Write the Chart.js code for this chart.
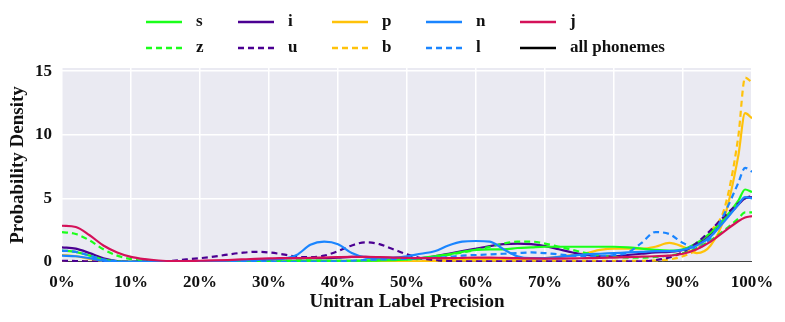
<!DOCTYPE html>
<html><head><meta charset="utf-8">
<script src="https://cdn.jsdelivr.net/npm/chart.js@4.4.1/dist/chart.umd.min.js"></script>
<style>html,body{margin:0;padding:0;background:#fff}#wrap{width:785px;height:322px}</style>
</head><body><div id="wrap"><canvas id="c" width="785" height="322"></canvas></div>
<script>
// x positions (Unitran label precision, %)
const xs = [0,2,4,6,8,10,12,14,16,18,20,22,24,26,28,30,32,34,36,38,40,42,44,46,48,50,52,54,56,58,60,62,64,66,68,70,72,74,76,78,80,82,84,86,88,90,92,94,96,98,99,100];
const seriesLabels = ["s","z","i","u","p","b","n","l","j","all phonemes"];
const s_vals = [0.9,0.8,0.5,0.2,0.05,0.01,0.01,0.01,0.01,0.01,0.01,0.01,0.01,0.01,0.01,0.01,0.05,0.08,0.1,0.1,0.1,0.1,0.1,0.12,0.15,0.2,0.3,0.45,0.6,0.8,0.95,1.0,1.0,1.1,1.15,1.2,1.2,1.2,1.2,1.2,1.2,1.15,1.05,0.95,0.9,1.0,1.5,2.3,3.4,4.8,5.7,5.5];
const z_vals = [2.35,2.2,1.7,1.0,0.5,0.22,0.08,0.03,0.02,0.02,0.02,0.02,0.02,0.02,0.03,0.05,0.1,0.12,0.12,0.1,0.1,0.1,0.12,0.15,0.2,0.2,0.25,0.35,0.55,0.75,0.95,1.2,1.45,1.6,1.6,1.45,1.2,0.95,0.7,0.5,0.4,0.35,0.35,0.4,0.5,0.7,1.1,1.7,2.5,3.4,3.9,3.9];
const i_vals = [1.15,1.05,0.7,0.3,0.08,0.02,0.02,0.02,0.02,0.02,0.02,0.02,0.02,0.02,0.05,0.15,0.3,0.3,0.3,0.3,0.35,0.4,0.4,0.35,0.3,0.25,0.3,0.45,0.65,0.85,1.05,1.25,1.4,1.45,1.4,1.25,1.0,0.75,0.55,0.45,0.45,0.55,0.65,0.75,0.8,0.95,1.4,2.2,3.3,4.5,5.0,5.1];
const u_vals = [0.1,0.08,0.05,0.02,0.02,0.02,0.03,0.05,0.1,0.2,0.3,0.42,0.58,0.72,0.8,0.75,0.6,0.42,0.38,0.5,0.85,1.3,1.55,1.4,1.0,0.6,0.3,0.15,0.08,0.05,0.05,0.05,0.05,0.05,0.05,0.05,0.05,0.05,0.05,0.05,0.05,0.05,0.05,0.15,0.35,0.8,1.5,2.5,3.6,4.6,5.0,5.2];
const p_vals = [0.55,0.45,0.25,0.08,0.02,0.02,0.02,0.02,0.02,0.02,0.02,0.02,0.02,0.02,0.02,0.02,0.02,0.02,0.02,0.02,0.02,0.02,0.02,0.02,0.02,0.02,0.05,0.1,0.15,0.2,0.25,0.25,0.25,0.25,0.25,0.3,0.4,0.55,0.7,0.95,1.05,1.05,1.05,1.2,1.5,1.2,0.7,1.3,3.5,8.3,11.7,11.3];
const b_vals = [0.05,0.05,0.04,0.03,0.03,0.03,0.03,0.03,0.03,0.03,0.03,0.03,0.03,0.03,0.03,0.03,0.04,0.05,0.05,0.05,0.05,0.05,0.05,0.05,0.05,0.05,0.06,0.08,0.1,0.1,0.1,0.1,0.1,0.1,0.1,0.1,0.1,0.1,0.1,0.1,0.1,0.1,0.1,0.12,0.2,0.45,1.0,2.4,4.2,9.8,14.5,14.1];
const n_vals = [0.5,0.45,0.3,0.1,0.02,0.01,0.01,0.01,0.01,0.01,0.01,0.05,0.1,0.12,0.15,0.2,0.25,0.55,1.35,1.6,1.4,0.7,0.35,0.3,0.35,0.45,0.65,0.85,1.3,1.6,1.65,1.6,1.0,0.45,0.3,0.3,0.4,0.5,0.6,0.65,0.7,0.75,0.8,0.85,0.85,0.95,1.3,2.0,3.2,4.5,5.1,5.0];
const l_vals = [0.9,0.8,0.5,0.2,0.05,0.01,0.01,0.01,0.01,0.01,0.01,0.01,0.01,0.01,0.01,0.01,0.01,0.02,0.03,0.04,0.05,0.1,0.15,0.2,0.22,0.25,0.3,0.35,0.4,0.5,0.55,0.6,0.65,0.7,0.75,0.7,0.6,0.5,0.45,0.45,0.55,0.75,1.5,2.35,2.2,1.5,1.1,1.9,3.8,6.2,7.4,7.1];
const j_vals = [2.85,2.75,2.1,1.3,0.75,0.4,0.22,0.12,0.08,0.08,0.1,0.12,0.15,0.2,0.25,0.28,0.3,0.3,0.32,0.35,0.38,0.4,0.4,0.38,0.35,0.32,0.3,0.3,0.3,0.32,0.35,0.35,0.32,0.3,0.28,0.27,0.27,0.28,0.3,0.32,0.35,0.38,0.42,0.45,0.5,0.65,1.0,1.6,2.4,3.2,3.5,3.6];
const all_vals = xs.map(() => 0);
const xTicks = [0,10,20,30,40,50,60,70,80,90,100];
const yTicks = [0,5,10,15];

const valueSets = [s_vals,z_vals,i_vals,u_vals,p_vals,b_vals,n_vals,l_vals,j_vals,all_vals];
const colors = ["#1AFF1A","#1AFF1A","#4B0092","#4B0092","#FFC20A","#FFC20A","#1A85FF","#1A85FF","#D41159","#000000"];
const dashed = [false,true,false,true,false,true,false,true,false,false];
const drawOrder = [5,5,6,4,7,7,3,3,1,9];

const FONT = "'Liberation Serif','Times New Roman',serif";

const datasets = seriesLabels.map((lab, k) => ({
  label: lab,
  data: xs.map((x, idx) => ({x: x, y: valueSets[k][idx]})),
  borderColor: colors[k],
  backgroundColor: colors[k],
  borderWidth: k === 9 ? 1.5 : 2.2,
  borderDash: dashed[k] ? [6,4] : [],
  pointRadius: 0,
  fill: false,
  cubicInterpolationMode: 'monotone',
  order: drawOrder[k]
}));

const bgPlugin = {
  id: 'bg',
  beforeDraw(chart) {
    const {ctx, chartArea: a} = chart;
    ctx.save();
    ctx.fillStyle = '#EAEAF2';
    ctx.fillRect(a.left, a.top, a.right - a.left, a.bottom - a.top);
    ctx.restore();
  }
};

const legendPlugin = {
  id: 'customLegend',
  afterDraw(chart) {
    const ctx = chart.ctx;
    const colX = [146, 238, 332, 426, 520];
    const rowY = [22, 48];
    const layout = [[0,1],[2,3],[4,5],[6,7],[8,9]];
    ctx.save();
    ctx.font = "bold 17px " + FONT;
    ctx.textBaseline = 'middle';
    layout.forEach((pair, c) => {
      pair.forEach((di, r) => {
        const ds = chart.data.datasets[di];
        const x = colX[c], y = rowY[r];
        ctx.strokeStyle = ds.borderColor;
        ctx.lineWidth = 2.5;
        ctx.setLineDash(ds.borderDash || []);
        ctx.beginPath();
        ctx.moveTo(x, y);
        ctx.lineTo(x + 36, y);
        ctx.stroke();
        ctx.setLineDash([]);
        ctx.fillStyle = '#111';
        ctx.fillText(ds.label, x + 50, y);
      });
    });
    ctx.restore();
  }
};

new Chart(document.getElementById('c'), {
  type: 'line',
  data: { datasets },
  options: {
    responsive: false,
    animation: false,
    layout: { padding: { top: 68, right: 33, left: 7, bottom: 9 } },
    plugins: { legend: { display: false }, tooltip: { enabled: false } },
    scales: {
      x: {
        type: 'linear', min: 0, max: 100,
        afterBuildTicks(scale) { scale.ticks = xTicks.map(v => ({value: v})); },
        afterFit(scale) { scale.height = 51; },
        grid: { color: '#ffffff', lineWidth: 1.5, drawTicks: false },
        border: { display: false },
        ticks: { color: '#111', padding: 10, font: { family: FONT, size: 17, weight: 'bold' }, callback: v => v + '%' },
        title: { display: true, text: 'Unitran Label Precision', color: '#111', padding: {top: 0, bottom: 0}, font: { family: FONT, size: 19, weight: 'bold' } }
      },
      y: {
        type: 'linear', min: 0, max: 15.25,
        afterBuildTicks(scale) { scale.ticks = yTicks.map(v => ({value: v})); },
        afterFit(scale) { scale.width = 55; },
        grid: { color: '#ffffff', lineWidth: 1.5, drawTicks: false },
        border: { display: false },
        ticks: { color: '#111', padding: 10, font: { family: FONT, size: 17, weight: 'bold' } },
        title: { display: true, text: 'Probability Density', color: '#111', padding: {top: 0, bottom: 4}, font: { family: FONT, size: 19, weight: 'bold' } }
      }
    }
  },
  plugins: [bgPlugin, legendPlugin]
});
</script></body></html>
